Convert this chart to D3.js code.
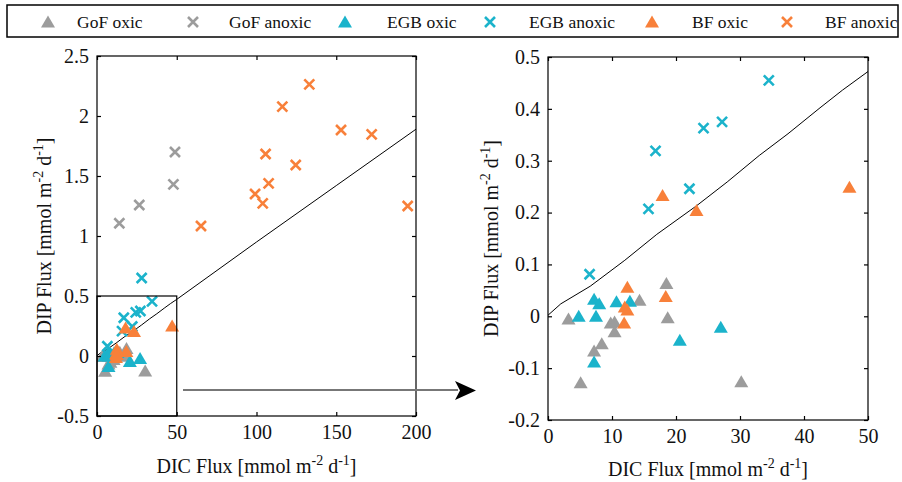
<!DOCTYPE html>
<html>
<head>
<meta charset="utf-8">
<script src="https://cdn.jsdelivr.net/npm/d3@7"></script>
<style>
  body { margin: 0; background: #fff; }
  text { font-family: "Liberation Serif", serif; fill: #111; }
</style>
</head>
<body>
<div id="chart"></div>
<script>
// series values [DIC flux, DIP flux]
var gofOxic = [[3.2,-0.005],[5.1,-0.128],[7.2,-0.067],[8.4,-0.053],[9.8,-0.013],[10.4,-0.011],
    [10.4,-0.030],[14.3,0.031],[18.5,0.063],[18.7,-0.003],[30.2,-0.126]];
var gofAnoxic = [[14.0,1.106],[26.5,1.258],[47.9,1.43],[48.9,1.70]];
var egbOxic = [[4.8,0.0],[7.2,0.033],[8.0,0.024],[7.5,0.0],[7.2,-0.088],[10.7,0.028],
    [12.8,0.029],[20.6,-0.046],[27.0,-0.021]];
var egbAnoxic = [[6.5,0.081],[15.7,0.207],[16.8,0.319],[22.1,0.246],[24.3,0.363],
    [27.2,0.375],[34.5,0.455],[28.0,0.65]];
var bfOxic = [[12.4,0.056],[12.0,0.018],[12.4,0.012],[11.9,-0.013],[18.4,0.038],
    [17.9,0.233],[23.2,0.204],[47.1,0.249]];
var bfAnoxic = [[65.2,1.083],[99.1,1.35],[103.9,1.272],[105.7,1.683],[107.6,1.439],
    [116.2,2.078],[124.6,1.592],[133.1,2.264],[153,1.883],[172.2,1.847],[194.8,1.25]];
var fitLine = [[0,0.002],[2,0.024],[6.6,0.058],[12,0.108],[17,0.158],[23.2,0.213],[28,0.259],
    [33,0.31],[37.5,0.352],[42.5,0.402],[46,0.436],[50,0.472],[100,0.95],[150,1.42],[200,1.89]];

var seriesNames = ["GoF oxic","GoF anoxic","EGB oxic","EGB anoxic","BF oxic","BF anoxic"];
var seriesData = [gofOxic, gofAnoxic, egbOxic, egbAnoxic, bfOxic, bfAnoxic];
var seriesShape = ["tri","x","tri","x","tri","x"];
var seriesColor = ["#9c9c9c","#9c9c9c","#1bb3cb","#1bb3cb","#f8803a","#f8803a"];

var leftXTicks = [0,50,100,150,200];
var leftYTicks = [-0.5,0,0.5,1,1.5,2,2.5];
var rightXTicks = [0,10,20,30,40,50];
var rightYTicks = [-0.2,-0.1,0,0.1,0.2,0.3,0.4,0.5];

var width = 902, height = 482;

var svg = d3.select("#chart").append("svg")
    .attr("width", width)
    .attr("height", height);

function fmt(d){
    return String(Math.round(d*10)/10).replace("\u2212","-");
}

var triPath = "M0,-6.5L7,5.5L-7,5.5Z";
var xPath = "M-5,-5L5,5M5,-5L-5,5";

function drawMarker(g, shape, color, x, y){
    if(shape == "tri"){
        g.append("path")
            .attr("d", triPath)
            .attr("transform", "translate(" + x + "," + y + ")")
            .attr("fill", color);
    } else {
        g.append("path")
            .attr("d", xPath)
            .attr("transform", "translate(" + x + "," + y + ")")
            .attr("fill", "none")
            .attr("stroke", color)
            .attr("stroke-width", 2.6);
    }
}

function panel(opt){
    var x = d3.scaleLinear().domain(opt.xDomain).range([opt.x0, opt.x1]);
    var y = d3.scaleLinear().domain(opt.yDomain).range([opt.y1, opt.y0]);
    var g = svg.append("g");

    var clipId = "clip" + opt.id;
    svg.append("clipPath").attr("id", clipId)
        .append("rect")
        .attr("x", opt.x0).attr("y", opt.y0)
        .attr("width", opt.x1 - opt.x0).attr("height", opt.y1 - opt.y0);

    var inner = g.append("g").attr("clip-path", "url(#" + clipId + ")");

    var line = d3.line()
        .x(function(d){ return x(d[0]); })
        .y(function(d){ return y(d[1]); });

    inner.append("path")
        .datum(fitLine)
        .attr("d", line)
        .attr("fill", "none")
        .attr("stroke", "#000")
        .attr("stroke-width", 1);

    for(var s = 0; s < seriesData.length; s++){
        seriesData[s].forEach(function(p){
            if(p[0] < opt.xDomain[0] || p[0] > opt.xDomain[1] || p[1] < opt.yDomain[0] || p[1] > opt.yDomain[1]) return;
            drawMarker(inner, seriesShape[s], seriesColor[s], x(p[0]), y(p[1]));
        });
    }

    // axes with inward ticks on all four sides
    g.append("g")
        .attr("transform", "translate(0," + opt.y1 + ")")
        .call(d3.axisBottom(x).tickValues(opt.xTicks).tickSizeInner(-4).tickSizeOuter(0).tickPadding(9).tickFormat(fmt));
    g.append("g")
        .attr("transform", "translate(0," + opt.y0 + ")")
        .call(d3.axisTop(x).tickValues(opt.xTicks).tickSizeInner(-4).tickSizeOuter(0).tickFormat(""));
    g.append("g")
        .attr("transform", "translate(" + opt.x0 + ",0)")
        .call(d3.axisLeft(y).tickValues(opt.yTicks).tickSizeInner(-4).tickSizeOuter(0).tickPadding(8).tickFormat(fmt));
    g.append("g")
        .attr("transform", "translate(" + opt.x1 + ",0)")
        .call(d3.axisRight(y).tickValues(opt.yTicks).tickSizeInner(-4).tickSizeOuter(0).tickFormat(""));

    g.selectAll(".domain").remove();
    g.selectAll(".tick line").attr("stroke", "#000").attr("stroke-width", 1.2);
    g.selectAll(".tick text")
        .style("font-family", "'Liberation Serif', serif")
        .style("font-size", "20px")
        .attr("fill", "#111");

    g.append("rect")
        .attr("x", opt.x0).attr("y", opt.y0)
        .attr("width", opt.x1 - opt.x0).attr("height", opt.y1 - opt.y0)
        .attr("fill", "none")
        .attr("stroke", "#000")
        .attr("stroke-width", 1.2);

    var xt = g.append("text")
        .attr("x", (opt.x0 + opt.x1) / 2)
        .attr("y", opt.xTitleY)
        .attr("text-anchor", "middle")
        .style("font-size", "20px");
    xt.append("tspan").text("DIC Flux [mmol m");
    xt.append("tspan").attr("dy", -8).style("font-size", "14px").text("-2");
    xt.append("tspan").attr("dy", 8).text(" d");
    xt.append("tspan").attr("dy", -8).style("font-size", "14px").text("-1");
    xt.append("tspan").attr("dy", 8).text("]");

    var yt = g.append("text")
        .attr("transform", "translate(" + opt.yTitleX + "," + (opt.y0 + opt.y1) / 2 + ")rotate(-90)")
        .attr("text-anchor", "middle")
        .style("font-size", "20px");
    yt.append("tspan").text("DIP Flux [mmol m");
    yt.append("tspan").attr("dy", -8).style("font-size", "14px").text("-2");
    yt.append("tspan").attr("dy", 8).text(" d");
    yt.append("tspan").attr("dy", -8).style("font-size", "14px").text("-1");
    yt.append("tspan").attr("dy", 8).text("]");

    return {x: x, y: y, g: g};
}

var left = panel({id: "L", xDomain: [0,200], yDomain: [-0.5,2.5], x0: 97, x1: 416, y0: 56, y1: 416,
    xTicks: leftXTicks, yTicks: leftYTicks, xTitleY: 473, yTitleX: 51});
var right = panel({id: "R", xDomain: [0,50], yDomain: [-0.2,0.5], x0: 548, x1: 868, y0: 57, y1: 420,
    xTicks: rightXTicks, yTicks: rightYTicks, xTitleY: 476, yTitleX: 498});

// zoom box in the left panel
left.g.append("rect")
    .attr("x", left.x(0)).attr("y", left.y(0.5))
    .attr("width", left.x(50) - left.x(0))
    .attr("height", left.y(-0.5) - left.y(0.5))
    .attr("fill", "none")
    .attr("stroke", "#000")
    .attr("stroke-width", 1.2);

// arrow to the right panel
svg.append("line")
    .attr("x1", 183).attr("y1", 390)
    .attr("x2", 458).attr("y2", 390)
    .attr("stroke", "#777")
    .attr("stroke-width", 1.8);
svg.append("path")
    .attr("d", "M476,390.5L455,381L460,390.5L455,400Z")
    .attr("fill", "#000");

// legend
var legendMarkX = [48, 193, 345, 490, 652, 787];
var legendTextX = [77, 229, 387, 529, 692, 825];

svg.append("rect")
    .attr("x", 7).attr("y", 5)
    .attr("width", 891).attr("height", 32)
    .attr("fill", "#fff")
    .attr("stroke", "#000")
    .attr("stroke-width", 1.5);

for(var i = 0; i < seriesNames.length; i++){
    drawMarker(svg, seriesShape[i], seriesColor[i], legendMarkX[i], 22);
    svg.append("text")
        .attr("x", legendTextX[i])
        .attr("y", 28)
        .style("font-size", "17.5px")
        .text(seriesNames[i]);
}
</script>
</body>
</html>
